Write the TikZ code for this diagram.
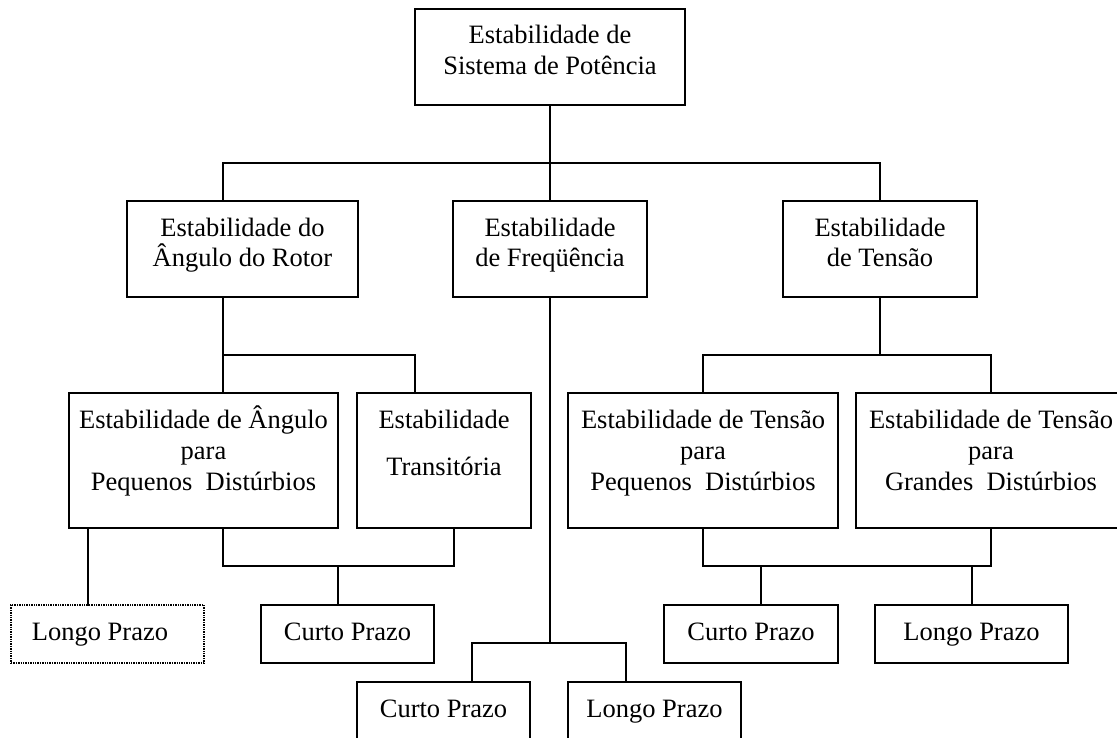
\documentclass[tikz,border=0pt]{standalone}
\usepackage{fontspec}
\setmainfont{Liberation Serif}
\begin{document}
\begin{tikzpicture}[x=1pt,y=-1pt, line width=1.8pt, line cap=rect,
  box/.style n args={3}{draw, rectangle, anchor=north west, inner sep=0pt, outer sep=0pt,
    align=center, font=\fontsize{26.5}{31}\selectfont,
    minimum width=#1, text height=#2, text depth=#3},
  dotbox/.style={densely dotted, line width=1.4pt, line cap=butt}]
\clip (0,0) rectangle (1117,738);
% level 1
\node[box={270pt}{66pt}{30pt}] (top) at (415,9) {Estabilidade de\\Sistema de Potência};
% level 2
\node[box={231pt}{66pt}{30pt}] (rotor) at (127,201) {Estabilidade do\\Ângulo do Rotor};
\node[box={194pt}{66pt}{30pt}] (freq) at (453,201) {Estabilidade\\de Freqüência};
\node[box={194pt}{66pt}{30pt}] (tensao) at (783,201) {Estabilidade\\de Tensão};
% level 3
\node[box={269pt}{97pt}{38pt}] (angulo) at (69,393) {Estabilidade de Ângulo\\para\\Pequenos~~Distúrbios};
\node[box={174pt}{82pt}{53pt}] (trans) at (357,393) {Estabilidade\\[16pt]Transitória};
\node[box={270pt}{97pt}{38pt}] (tsmall) at (568,393) {Estabilidade de Tensão\\para\\Pequenos~~Distúrbios};
\node[box={270pt}{97pt}{38pt}] (tgrande) at (856,393) {Estabilidade de Tensão\\para\\Grandes~~Distúrbios};
% level 4
\node[box={193pt}{35pt}{23pt}, dotbox] (longoA) at (11,605) {Longo Prazo\kern15pt};
\node[box={173pt}{35pt}{23pt}] (curtoA) at (261,605) {Curto Prazo};
\node[box={174pt}{35pt}{23pt}] (curtoT) at (664,605) {Curto Prazo};
\node[box={193pt}{35pt}{23pt}] (longoT) at (875,605) {Longo Prazo};
% level 5
\node[box={173pt}{35pt}{43pt}] (curtoF) at (357,682) {Curto Prazo};
\node[box={173pt}{35pt}{43pt}] (longoF) at (568,682) {Longo Prazo};
% junction coordinates
\coordinate (b1L) at (223,163);
\coordinate (b1R) at (880,163);
\coordinate (b2L) at (223,355);
\coordinate (b2R) at (415,355);
\coordinate (b3L) at (223,566);
\coordinate (b3R) at (454,566);
\coordinate (b3M) at (338,566);
\coordinate (xA) at (88,566);
\coordinate (b4) at (550,643);
\coordinate (b4L) at (472,643);
\coordinate (b4R) at (626,643);
\coordinate (b5L) at (703,355);
\coordinate (b5R) at (991,355);
\coordinate (b6L) at (703,566);
\coordinate (b6R) at (991,566);
\coordinate (b6a) at (761,566);
\coordinate (b6b) at (972,566);
% connectors
\draw (top.south) -- (top.south |- b1L);
\draw (rotor.north -| b1L) -- (b1L) -- (b1R) -- (tensao.north -| b1R);
\draw (freq.north) -- (freq.north |- b1L);
\draw (rotor.south -| b2L) -- (angulo.north -| b2L);
\draw (b2L) -- (b2R) -- (trans.north -| b2R);
\draw (angulo.south -| b3L) -- (b3L) -- (b3R) -- (trans.south -| b3R);
\draw (b3M) -- (curtoA.north -| b3M);
\draw (angulo.south -| xA) -- (longoA.north -| xA);
\draw (freq.south -| b4) -- (b4);
\draw (curtoF.north -| b4L) -- (b4L) -- (b4R) -- (longoF.north -| b4R);
\draw (tensao.south) -- (tensao.south |- b5L);
\draw (tsmall.north -| b5L) -- (b5L) -- (b5R) -- (tgrande.north -| b5R);
\draw (tsmall.south -| b6L) -- (b6L) -- (b6R) -- (tgrande.south -| b6R);
\draw (b6a) -- (curtoT.north -| b6a);
\draw (b6b) -- (longoT.north -| b6b);
\end{tikzpicture}
\end{document}
